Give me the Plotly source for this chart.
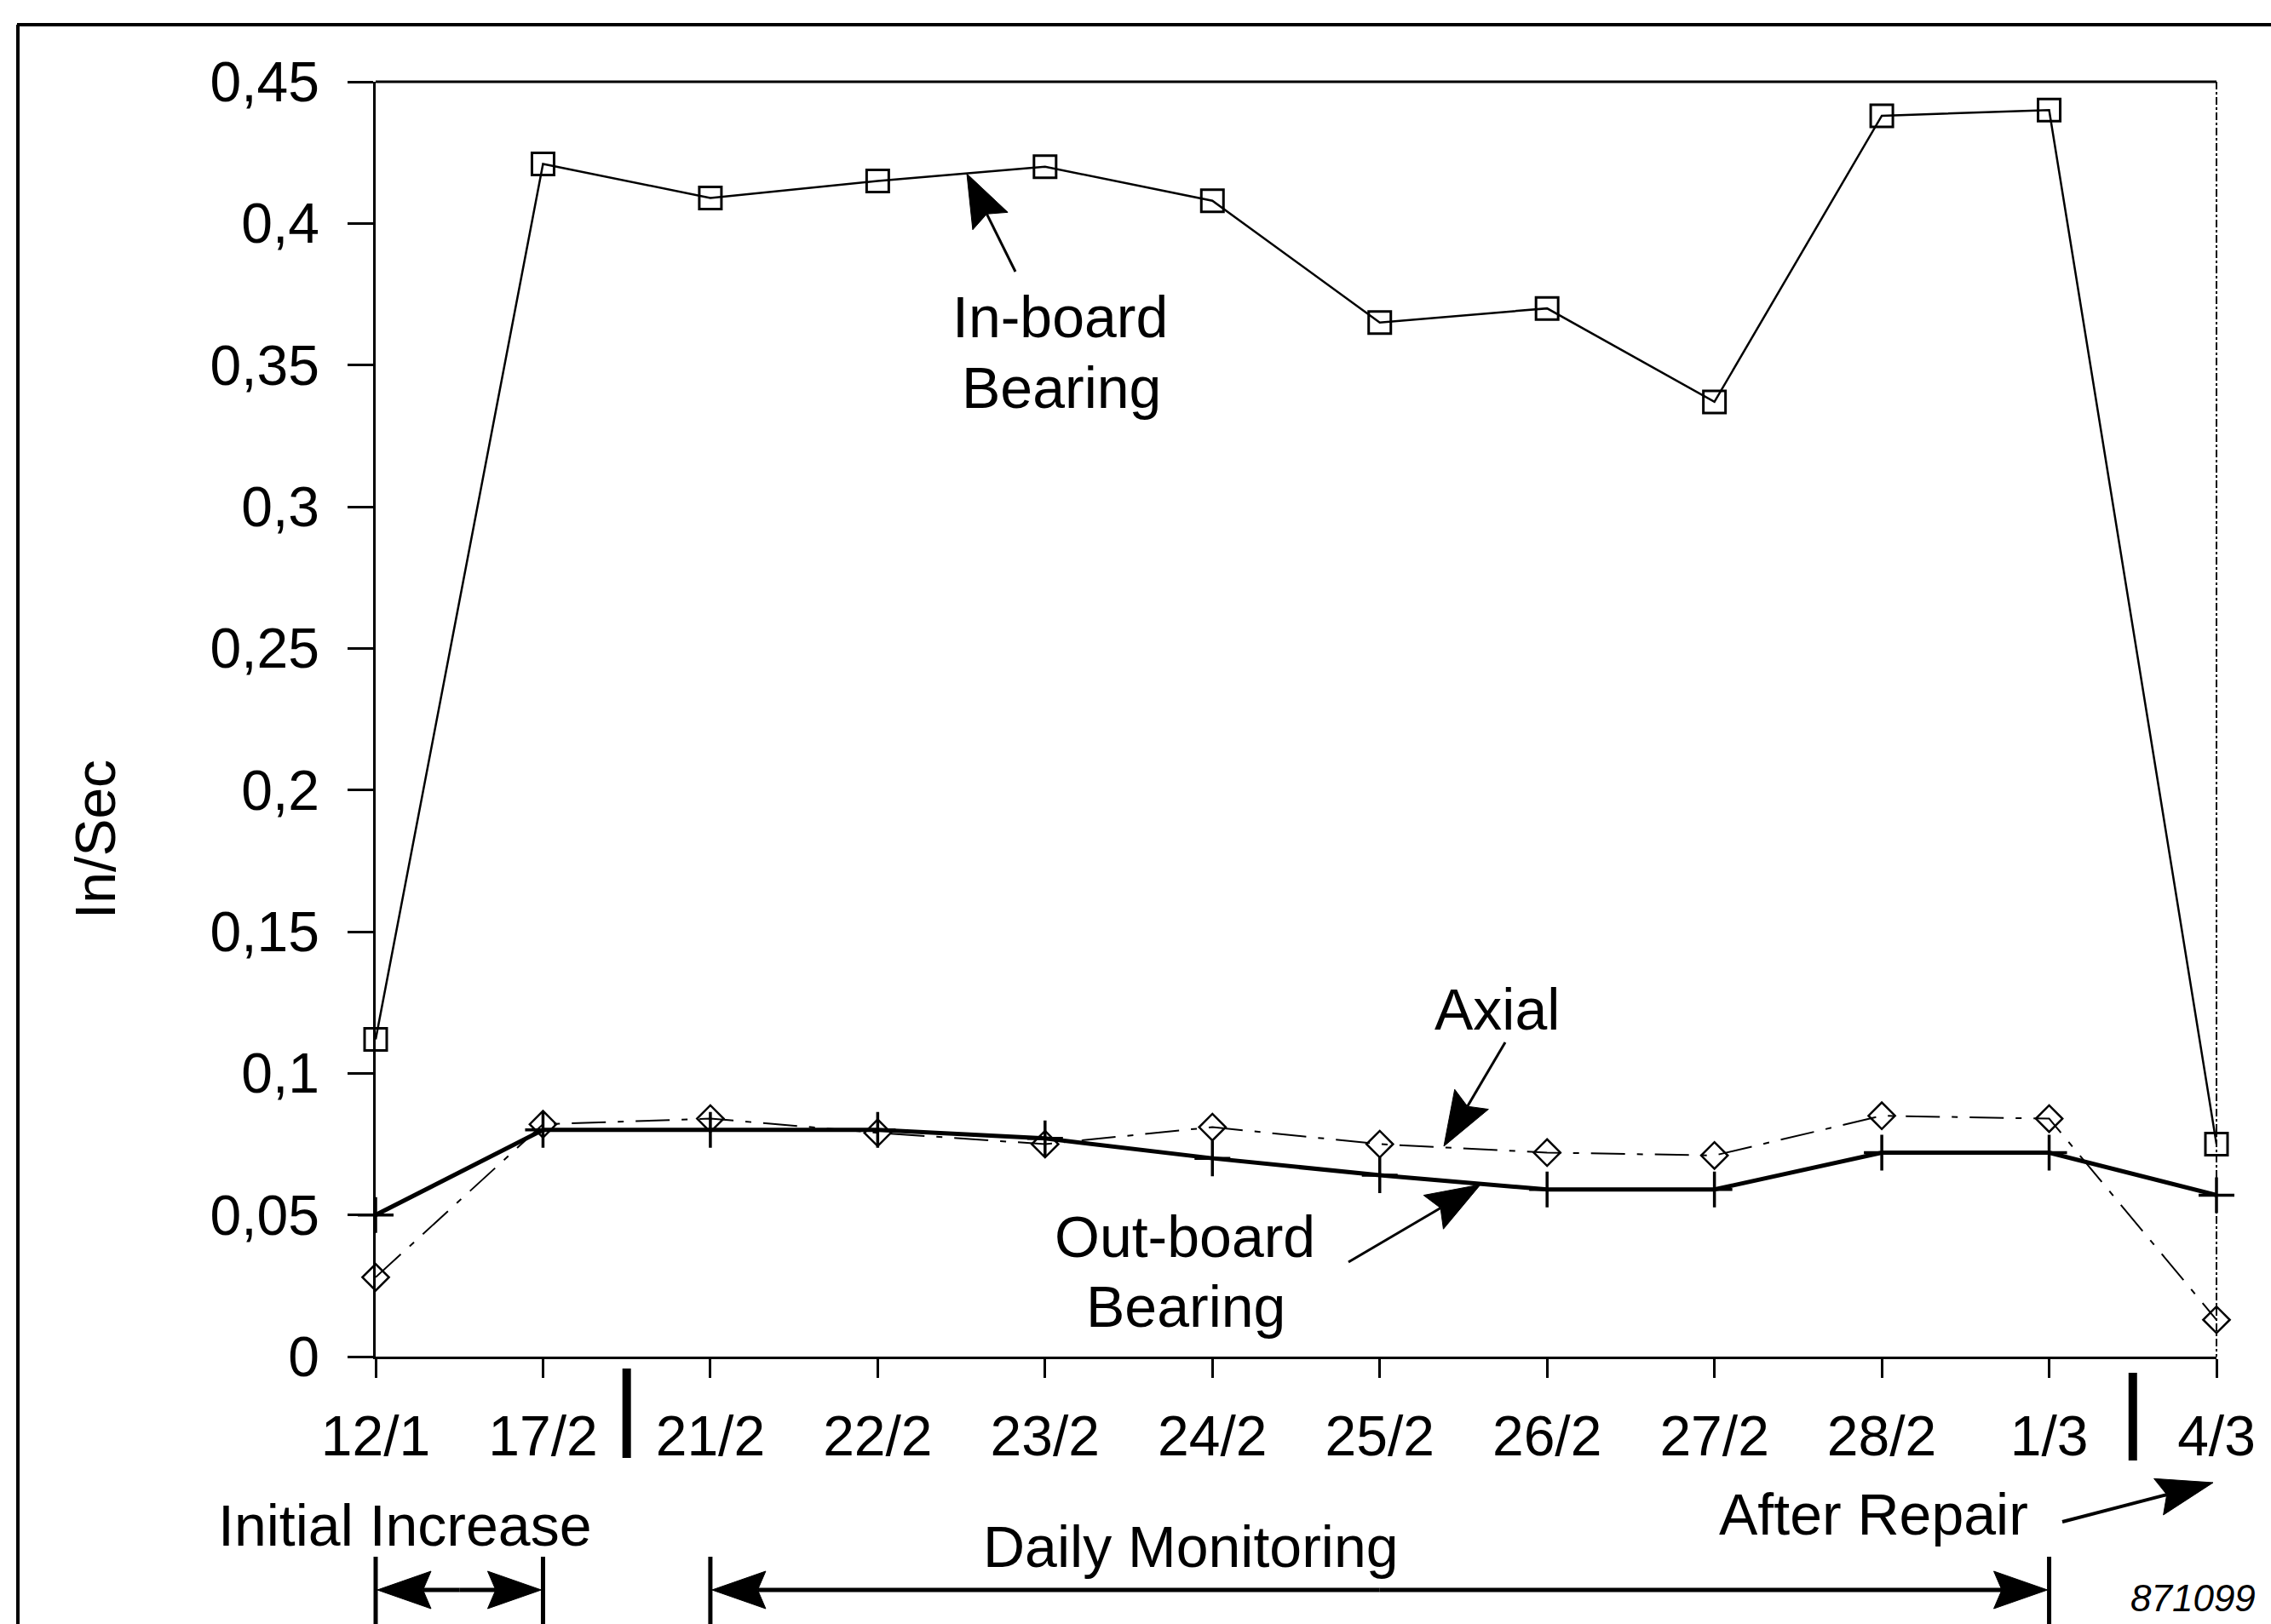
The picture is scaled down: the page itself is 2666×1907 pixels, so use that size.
import math
import plotly.graph_objects as go

# ---------------- data ----------------
categories = ["12/1", "17/2", "21/2", "22/2", "23/2", "24/2", "25/2", "26/2", "27/2", "28/2", "1/3", "4/3"]
inboard = [0.112, 0.421, 0.409, 0.415, 0.420, 0.408, 0.365, 0.370, 0.337, 0.438, 0.440, 0.075]
outboard = [0.050, 0.080, 0.080, 0.080, 0.077, 0.070, 0.064, 0.059, 0.059, 0.072, 0.072, 0.057]
axial = [0.028, 0.082, 0.084, 0.079, 0.075, 0.081, 0.075, 0.072, 0.071, 0.085, 0.084, 0.013]
y_tickvals = [0, 0.05, 0.1, 0.15, 0.2, 0.25, 0.3, 0.35, 0.4, 0.45]
y_ticktext = ["0", "0,05", "0,1", "0,15", "0,2", "0,25", "0,3", "0,35", "0,4", "0,45"]

FONT = "Liberation Sans, Arial, Helvetica, sans-serif"
W, H = 2666, 1907
X0, X1, Y0, Y1 = 441, 2602, 1593, 96  # plot-area pixel edges


def px(x):
    return (x - X0) / (X1 - X0)


def py(y):
    return (Y0 - y) / (Y0 - Y1)


fig = go.Figure()
fig.add_trace(go.Scatter(
    x=categories, y=axial, mode="lines+markers", cliponaxis=False,
    line=dict(color="black", width=2, dash="40px,14px,7px,14px"),
    marker=dict(symbol="diamond-open", size=24, color="black", line=dict(width=2.5, color="black")),
))
fig.add_trace(go.Scatter(
    x=categories, y=outboard, mode="lines+markers", cliponaxis=False,
    line=dict(color="black", width=5),
    marker=dict(symbol="cross-thin-open", size=30, color="black", line=dict(width=3.5, color="black")),
))
fig.add_trace(go.Scatter(
    x=categories, y=inboard, mode="lines+markers", cliponaxis=False,
    line=dict(color="black", width=2.5),
    marker=dict(symbol="square-open", size=26, color="black", line=dict(width=3, color="black")),
))

shapes = []


def arrow(sx, sy, tx, ty, L, Wd, lw):
    dx, dy = tx - sx, ty - sy
    n = math.hypot(dx, dy)
    ux, uy = dx / n, dy / n
    bx, by = tx - ux * L, ty - uy * L
    nx, ny = -uy, ux
    notch = 0.15 * L
    pts = [(tx, ty), (bx + nx * Wd / 2, by + ny * Wd / 2), (bx + ux * notch, by + uy * notch),
           (bx - nx * Wd / 2, by - ny * Wd / 2)]
    path = "M " + " L ".join(f"{px(x):.5f},{py(y):.5f}" for x, y in pts) + " Z"
    shapes.append(dict(type="line", xref="paper", yref="paper", x0=px(sx), y0=py(sy),
                       x1=px(bx + ux * notch), y1=py(by + uy * notch),
                       line=dict(color="black", width=lw)))
    shapes.append(dict(type="path", xref="paper", yref="paper", path=path,
                       fillcolor="black", line=dict(color="black", width=1)))


def vline(x, ya, yb, lw, dash="solid"):
    shapes.append(dict(type="line", xref="paper", yref="paper", x0=px(x), x1=px(x), y0=py(ya), y1=py(yb),
                       line=dict(color="black", width=lw, dash=dash)))


def hline(xa, xb, y, lw):
    shapes.append(dict(type="line", xref="paper", yref="paper", x0=px(xa), x1=px(xb), y0=py(y), y1=py(y),
                       line=dict(color="black", width=lw)))


step = (X1 - X0) / 11.0
# outer frame
hline(20, W, 29, 4)
vline(21, 29, H, 4)
# plot top border and dash-dot right border
hline(X0, X1, Y1, 3)
vline(X1, Y1, Y0, 2, "dashdot")
# separator bars under the axis
vline(X0 + 1.5 * step, 1607, 1712, 10)
vline(X0 + 10.5 * step, 1612, 1715, 10)

# in-plot arrows
arrow(1192, 319, 1135, 204, 62, 46, 3)
arrow(1767, 1224, 1695, 1346, 64, 46, 3)
arrow(1583, 1482, 1738, 1391, 64, 46, 3)
arrow(2421, 1787, 2598, 1741, 66, 44, 4)

# bottom range arrows
arrY = 1867
for xa, xb in [(X0, X0 + step), (X0 + 2 * step, X0 + 10 * step)]:
    mid = (xa + xb) / 2
    arrow(mid, arrY, xa + 2, arrY, 63, 44, 5)
    arrow(mid, arrY, xb - 2, arrY, 63, 44, 5)
    vline(xa, 1828, H, 5)
    vline(xb, 1828, H, 5)

annotations = []


def label(text, x, y, size=68, italic=False, angle=0):
    annotations.append(dict(
        text=f"<i>{text}</i>" if italic else text, x=px(x), y=py(y), xref="paper", yref="paper",
        showarrow=False, xanchor="center", yanchor="middle", textangle=angle,
        font=dict(family=FONT, size=size, color="black")))


label("In-board", 1244, 372)
label("Bearing", 1246, 455)
label("Axial", 1757, 1185)
label("Out-board", 1391, 1452)
label("Bearing", 1392, 1534)
label("Initial Increase", 475, 1791)
label("Daily Monitoring", 1398, 1816)
label("After Repair", 2199, 1778)
label("871099", 2574, 1876, size=44, italic=True)
label("In/Sec", 112, 986, size=66, angle=-90)

fig.update_layout(
    width=W, height=H, autosize=False,
    margin=dict(l=X0, r=W - X1, t=Y1, b=H - Y0, pad=0),
    plot_bgcolor="white", paper_bgcolor="white", showlegend=False,
    font=dict(family=FONT, color="black"),
    shapes=shapes, annotations=annotations,
    xaxis=dict(type="category", categoryorder="array", categoryarray=categories, range=[0, 11],
               showline=True, linecolor="black", linewidth=3, ticks="outside", ticklen=22,
               tickwidth=2.5, tickcolor="black", tickfont=dict(size=66, family=FONT),
               showgrid=False, zeroline=False, ticklabelstandoff=12, fixedrange=True),
    yaxis=dict(range=[0, 0.45], tickmode="array", tickvals=y_tickvals, ticktext=y_ticktext,
               showline=True, linecolor="black", linewidth=2.5, ticks="outside", ticklen=30,
               tickwidth=3, tickcolor="black", tickfont=dict(size=66, family=FONT),
               showgrid=False, zeroline=False, ticklabelstandoff=20, fixedrange=True),
)

fig.write_html("out.html", config={"displayModeBar": False},
               post_script="document.body.style.margin='0';document.body.style.overflow='hidden';")
